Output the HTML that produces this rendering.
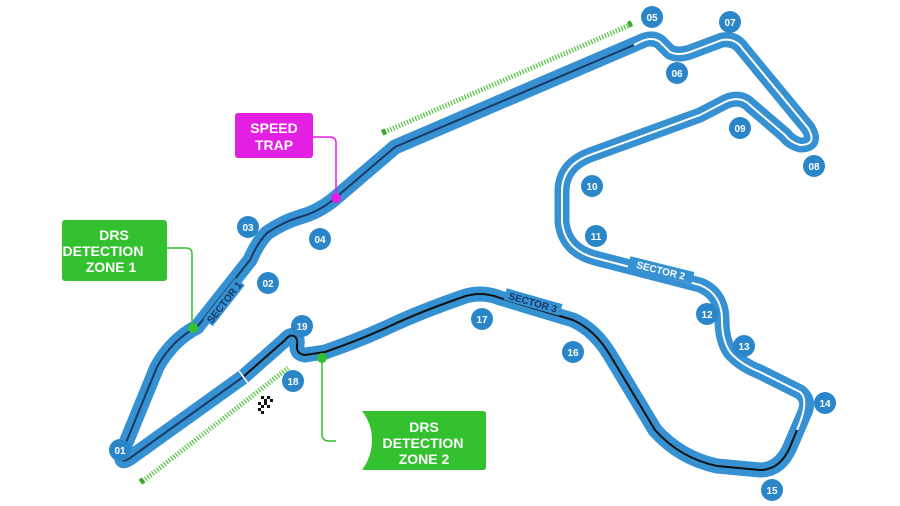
<!DOCTYPE html>
<html><head><meta charset="utf-8"><style>
html,body{margin:0;padding:0;background:#fff;width:900px;height:506px;overflow:hidden}
svg{display:block}
text{font-family:"Liberation Sans",sans-serif;font-weight:bold}
</style></head><body>
<svg width="900" height="506" viewBox="0 0 900 506">
<line x1="385" y1="132" x2="630" y2="25" stroke="#4cc43a" stroke-width="5" stroke-dasharray="1.2 1.8"/>
<rect x="628" y="21" width="4" height="6" fill="#3aa82a" transform="rotate(-23 630 24)"/>
<rect x="382" y="129" width="4" height="6" fill="#3aa82a" transform="rotate(-23 384 132)"/>
<line x1="143" y1="481" x2="288" y2="368" stroke="#4cc43a" stroke-width="5" stroke-dasharray="1.2 1.8"/>
<rect x="140" y="478" width="4" height="6" fill="#3aa82a" transform="rotate(-38 142 481)"/>
<path d="M243,377 L130,458 Q118,466 123,450 L157,367 Q172,340 197,327 L250,260 Q258,242 267,233 Q283,222 300,217 Q318,212 333,200 L395,147 L640,42 Q652,36 660,42 L670,52 Q678,56 690,52 L722,40 Q735,38 742,48 L808,128 Q818,145 800,145 Q790,142 785,135 L750,105 Q740,95 725,102 L700,115 L590,155 Q563,165 562,190 L562,222 Q565,250 595,258 L700,285 Q722,294 722,320 Q722,340 730,352 Q740,364 760,372 L800,392 Q810,400 805,412 L790,447 Q780,470 760,470 L717,466 Q680,458 655,430 L610,355 Q595,330 573,320 L500,298 Q480,290 460,298 Q420,312 390,326 Q360,340 325,352 L305,355 Q296,354 297,345 Q298,338 294,336 Q290,334 285,340 Z" fill="none" stroke="#3591d2" stroke-width="15" stroke-linejoin="round"/>
<path d="M243,377 L130,458 Q118,466 123,450 L157,367 Q172,340 197,327 L250,260 Q258,242 267,233 Q283,222 300,217 Q318,212 333,200 L395,147 L634,45" fill="none" stroke="#1b3a63" stroke-width="2"/>
<path d="M634,45 L640,42 Q652,36 660,42 L670,52 Q678,56 690,52 L722,40 Q735,38 742,48 L808,128 Q818,145 800,145 Q790,142 785,135 L750,105 Q740,95 725,102 L700,115 L590,155 Q563,165 562,190 L562,222 Q565,250 595,258 L700,285 Q722,294 722,320 Q722,340 730,352 Q740,364 760,372 L800,392 Q810,400 797,430" fill="none" stroke="#fff" stroke-width="2"/>
<path d="M797,430 L790,447 Q780,470 760,470 L717,466 Q680,458 655,430 L610,355 Q595,330 573,320 L500,298 Q480,290 460,298 Q420,312 390,326 Q360,340 325,352 L305,355 Q296,354 297,345 Q298,338 294,336 Q290,334 285,340 L243,377" fill="none" stroke="#111" stroke-width="2"/>
<line x1="239" y1="371" x2="250" y2="386" stroke="#fff" stroke-width="1.5"/>
<rect x="628" y="264" width="66" height="12" fill="#3591d2" transform="rotate(14 661 270)"/>
<text x="661" y="274" font-size="10" fill="#fff" text-anchor="middle" transform="rotate(14 661 270)">SECTOR 2</text>
<rect x="504" y="296" width="58" height="12" fill="#3591d2" transform="rotate(16 533 302)"/>
<text x="533" y="306" font-size="10" fill="#1b3a63" text-anchor="middle" transform="rotate(16 533 302)">SECTOR 3</text>
<rect x="198" y="296" width="52" height="12" fill="#3591d2" transform="rotate(-52 224 302)"/>
<text x="224" y="306" font-size="10" fill="#1b3a63" text-anchor="middle" transform="rotate(-52 224 302)">SECTOR 1</text>
<g fill="#111">
<rect x="261" y="396" width="3" height="3"/><rect x="267" y="396" width="3" height="3"/><rect x="264" y="399" width="3" height="3"/><rect x="270" y="399" width="3" height="3"/><rect x="258" y="402" width="3" height="3"/><rect x="264" y="402" width="3" height="3"/><rect x="261" y="405" width="3" height="3"/><rect x="267" y="405" width="3" height="3"/><rect x="258" y="408" width="3" height="3"/><rect x="261" y="411" width="3" height="3"/>
</g>
<rect x="235" y="113" width="78" height="45" rx="3" fill="#e41fe4"/>
<text x="274" y="133" font-size="14" fill="#fff" text-anchor="middle">SPEED</text>
<text x="274" y="150" font-size="14" fill="#fff" text-anchor="middle">TRAP</text>
<path d="M313,137 H330 Q336,137 336,143 V198" fill="none" stroke="#e41fe4" stroke-width="1.5"/>
<circle cx="336" cy="198" r="5" fill="#e41fe4"/>
<rect x="62" y="220" width="105" height="61" rx="3" fill="#33c12f"/>
<text x="114" y="240" font-size="14" fill="#fff" text-anchor="middle">DRS</text>
<text x="103" y="256" font-size="14" fill="#fff" text-anchor="middle">DETECTION</text>
<text x="111" y="272" font-size="14" fill="#fff" text-anchor="middle">ZONE 1</text>
<path d="M167,248 H186 Q192,248 192,254 V328" fill="none" stroke="#33c12f" stroke-width="1.5"/>
<circle cx="193" cy="328" r="5" fill="#33c12f"/>
<path d="M362,411 H483 Q486,411 486,414 V467 Q486,470 483,470 H362 Q372,456 372,440 Q372,424 362,411 Z" fill="#33c12f"/>
<text x="424" y="432" font-size="14" fill="#fff" text-anchor="middle">DRS</text>
<text x="423" y="448" font-size="14" fill="#fff" text-anchor="middle">DETECTION</text>
<text x="424" y="464" font-size="14" fill="#fff" text-anchor="middle">ZONE 2</text>
<path d="M322,358 V434 Q322,441 329,441 H336" fill="none" stroke="#33c12f" stroke-width="1.5"/>
<circle cx="322" cy="358" r="5" fill="#33c12f"/>
<g font-size="10" fill="#fff" text-anchor="middle">
<g fill="#2a86c8">
<circle cx="120" cy="450" r="11"/><circle cx="268" cy="283" r="11"/><circle cx="248" cy="227" r="11"/><circle cx="320" cy="239" r="11"/><circle cx="652" cy="17" r="11"/><circle cx="677" cy="73" r="11"/><circle cx="730" cy="22" r="11"/><circle cx="814" cy="166" r="11"/><circle cx="740" cy="128" r="11"/><circle cx="592" cy="186" r="11"/><circle cx="596" cy="236" r="11"/><circle cx="707" cy="314" r="11"/><circle cx="744" cy="346" r="11"/><circle cx="825" cy="403" r="11"/><circle cx="772" cy="490" r="11"/><circle cx="573" cy="352" r="11"/><circle cx="482" cy="319" r="11"/><circle cx="293" cy="381" r="11"/><circle cx="302" cy="326" r="11"/>
</g>
<text x="120" y="454">01</text><text x="268" y="287">02</text><text x="248" y="231">03</text><text x="320" y="243">04</text><text x="652" y="21">05</text><text x="677" y="77">06</text><text x="730" y="26">07</text><text x="814" y="170">08</text><text x="740" y="132">09</text><text x="592" y="190">10</text><text x="596" y="240">11</text><text x="707" y="318">12</text><text x="744" y="350">13</text><text x="825" y="407">14</text><text x="772" y="494">15</text><text x="573" y="356">16</text><text x="482" y="323">17</text><text x="293" y="385">18</text><text x="302" y="330">19</text>
</g>
</svg>
</body></html>
